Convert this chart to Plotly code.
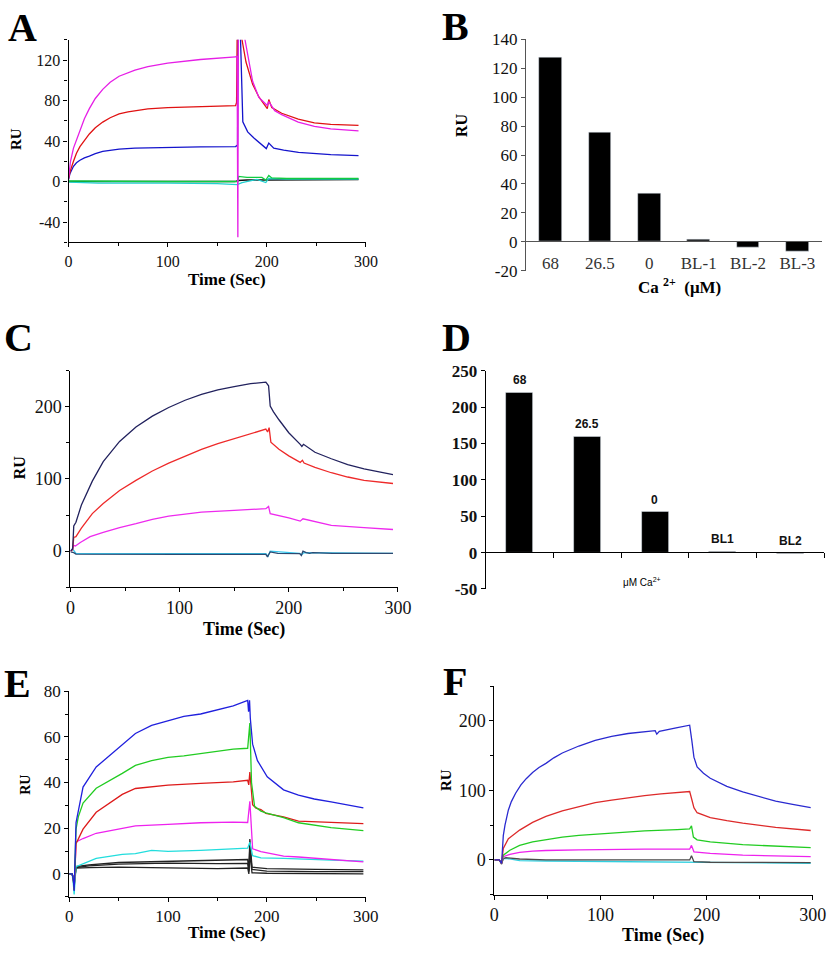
import plotly.graph_objects as go

W, H = 840, 955

# ---------- Panel A : sensorgrams ----------
a_mag_t = [0, 2, 5, 8, 11.5, 16, 21, 27, 34.5, 42, 51, 60, 67, 80, 100, 133, 168.5, 170, 170.8, 171.6, 178, 185.7, 192, 199, 200.5, 202, 208, 215, 231.7, 248, 264.5, 292.5]
a_mag_v = [3, 20, 33, 41, 50, 62, 72, 82, 91, 98, 104, 107.5, 110, 113.5, 117, 120.5, 123, 124, -55, 300, 140, 99, 83, 76.5, 75, 79, 70, 66, 58.7, 54.5, 52, 50]
a_red_t = [0, 1.6, 5, 8, 11.5, 16, 21, 27, 34.5, 42, 51, 60, 67, 80, 100, 133, 168.5, 169.5, 170.5, 171.5, 175, 179, 185.7, 192, 199, 200.5, 202, 205, 215, 231.7, 248, 264.5, 292.5]
a_red_v = [3, 10, 20, 28, 34.5, 41, 47, 53, 58.7, 63, 66.8, 68.8, 70, 71.8, 73, 74, 75, 78, 300, 300, 140, 118, 96, 83.5, 74, 72, 81, 73, 67.4, 61.6, 58, 56.5, 55.5]
a_blue_t = [0, 1.5, 5, 8, 11.5, 16, 21, 27, 34.5, 42, 51, 67, 100, 133, 168.5, 170.5, 171.5, 173.5, 175.8, 180.7, 187, 197, 199.5, 202, 207, 217, 232, 264.5, 292.5]
a_blue_v = [2, 8, 15, 18.5, 21, 23.3, 25, 27.5, 29.7, 31, 32, 33, 34, 34.3, 34.5, 36, 300, 140, 59, 49, 43, 35, 32.5, 38, 33, 31, 28.7, 26.5, 25.5]
a_blk_t = [0, 50, 100, 168, 171, 180, 200, 250, 292.5]
a_blk_v = [0, 0, 0.5, 0, 1, 1.5, 1.5, 2, 2]
a_grn_t = [0, 50, 100, 168, 171, 171.5, 180, 195, 199, 202, 205, 220, 292.5]
a_grn_v = [0.5, 0, 0, 0, 0, 5, 4, 4, 1.5, 6, 3.5, 3, 3]
a_cyn_t = [0, 30, 100, 150, 170, 175, 190, 199, 202, 220, 292.5]
a_cyn_v = [-0.5, -1.5, -1.5, -2, -3, -1, 2, -1, 3, 2.5, 2.5]
a_ticks = [-40, 0, 40, 80, 120]

# ---------- Panel B : bars ----------
b_cats = ["68", "26.5", "0", "BL-1", "BL-2", "BL-3"]
b_vals = [127.5, 75.5, 33.5, 1.5, -3.9, -6.8]
b_ticks = [-20, 0, 20, 40, 60, 80, 100, 120, 140]

# ---------- Panel C : sensorgrams ----------
c_navy_t = [0, 2, 3, 5, 10, 20, 30, 45, 60, 75, 90, 105, 120, 135, 150, 165, 179, 181.5, 183, 186, 191, 200, 210.5, 212, 213.5, 224, 239, 254, 269, 295.5]
c_navy_v = [0, 3, 35, 40, 64, 97, 124, 152, 172, 187, 199, 209, 217, 223.5, 228, 232, 234, 229, 201, 193, 182, 164, 148, 145, 148, 137, 128, 120, 114, 106]
c_red_t = [0, 2, 3, 5, 10, 20, 30, 45, 60, 75, 90, 105, 120, 135, 150, 165, 179, 180.6, 182, 183.6, 191, 200, 210.5, 212.5, 214, 224, 239, 254, 269, 295.5]
c_red_v = [0, 2, 19, 20, 32, 52, 66, 84, 98, 111, 122, 132, 141, 149, 156, 163, 169, 165, 171, 151, 141, 132, 123, 126, 122, 116, 108.6, 102.7, 98, 93.7]
c_mag_t = [0, 2, 3, 4.5, 9, 18, 30, 45, 60, 75, 90, 105, 120, 150, 179, 181.5, 183, 200, 210.5, 213, 224, 239, 269, 295.5]
c_mag_v = [0, 3, 8, 7, 12, 20, 26, 32.6, 38, 44, 48.4, 51.6, 54, 56.6, 58.8, 62, 52, 46, 41.6, 44.8, 40.7, 35.7, 32.6, 30]
c_cyn_t = [0, 1.5, 3, 5, 20, 100, 179, 181, 183, 210, 212, 214, 295.5]
c_cyn_v = [0, 3, 1, -3, -3.5, -3.5, -3.5, -7, 0, -3, -5, -2, -3]
c_teal_t = [0, 3, 5, 20, 60, 100, 179, 180.5, 181.5, 183, 190, 210, 211.5, 213, 216, 219, 222, 240, 295.5]
c_teal_v = [-1, -2, -4, -4.2, -4.5, -4.5, -4.5, -8, -5, -1, -3, -3.5, -6, 0, -2, -3, -2, -3, -3]

# ---------- Panel D : bars ----------
d_cats = ["68", "26.5", "0", "BL1", "BL2"]
d_vals = [220, 159.5, 56, 1.5, -1.5]
d_ticks = [-50, 0, 50, 100, 150, 200, 250]

# ---------- Panel E : sensorgrams ----------
e_blue_t = [0, 3, 4.3, 5, 6.9, 9.2, 14, 27.3, 53.7, 67, 83.4, 100, 116, 133, 149, 166, 180.6, 181.5, 182.5, 183.3, 185.6, 190.5, 200.4, 216.9, 232, 248, 265, 281, 297.7]
e_blue_v = [0, 0, -3, -7.5, 22.5, 28, 38, 46.8, 56.8, 61.5, 65, 67, 69, 70, 71.7, 73.6, 76, 71, 76, 68, 56.8, 49.6, 42.5, 36.8, 34.5, 32.8, 31.5, 30.3, 28.9]
e_grn_t = [0, 3, 4.3, 5, 6.9, 9.2, 14, 27.3, 53.7, 67, 83.4, 100, 116, 133, 149, 166, 180.6, 182.8, 184.5, 187.6, 194, 199, 216.9, 232, 265, 297.7]
e_grn_v = [0, 0, -3, -7, 19.6, 25, 31, 37.5, 44, 47.5, 49.6, 51, 51.7, 52.7, 53.9, 54.6, 55, 66, 40, 29.6, 27.5, 26.7, 24.6, 22.4, 20.3, 19]
e_red_t = [0, 3, 4.3, 5, 6.9, 9.2, 14, 27.3, 53.7, 67, 83.4, 100, 133, 166, 180.6, 181.7, 182.8, 185.6, 189, 194, 199, 216.9, 232, 265, 297.7]
e_red_v = [0, 0, -3, -7, 13.2, 15.3, 19.6, 27, 34.8, 37.4, 38, 38.9, 39.6, 40.3, 41, 39, 44.6, 30.3, 28.8, 28.2, 26.5, 25, 23.1, 22.4, 22]
e_mag_t = [0, 3, 4.3, 5, 6.9, 9.2, 14, 27.3, 53.7, 67, 100, 133, 166, 180.6, 182.8, 185.6, 194, 199, 217, 232, 265, 297.7]
e_mag_v = [0, 0, -3, -7, 14, 14.5, 15.5, 17.8, 20, 21, 21.7, 22.4, 22.7, 22.5, 31.8, 11, 9.8, 9.3, 7.8, 7.4, 6.3, 5.3]
e_cyn_t = [0, 3, 4.3, 5, 6.9, 14, 27.3, 53.7, 67, 83.4, 100, 133, 166, 180.6, 182.8, 185.6, 194, 217, 265, 297.7]
e_cyn_v = [0, 0, -5, -9, 3.2, 4.5, 6.8, 8.6, 8.9, 10.3, 9.9, 10.3, 11, 11.3, 13.9, 8, 7, 6.8, 6, 5.6]
e_blk_t = [0, 3, 4.3, 5, 6.9, 20, 50, 100, 150, 180.6, 181.8, 182.8, 185, 200, 250, 297.7]
e_blk1_v = [0, 0, -3, -6, 3.2, 4, 5, 5.4, 6, 6.3, 1, 15.3, 3, 2.3, 2, 1.8]
e_blk2_v = [0, 0, -2, -5, 2.8, 3.5, 4.3, 4.7, 4.5, 4.6, 1.5, 12, 2, 1.2, 1, 1]
e_blk3_v = [0, 0, -2, -4, 2.5, 2.8, 3, 2.6, 2.3, 2.6, 0, 9, 0.5, 0.3, 0.2, 0]

# ---------- Panel F : sensorgrams ----------
f_blue_t = [0, 4.6, 6.8, 8.4, 10, 13.2, 16, 20, 25, 30, 36, 42, 48.6, 56, 64, 79.6, 95, 110.5, 126, 141.5, 151.5, 153, 155.4, 172.4, 184, 186, 188, 191, 197, 203.4, 219, 234, 250, 265, 281, 298]
f_blue_v = [0, 0, -5, 35, 50, 72, 84, 96, 108, 117, 126, 133, 139, 147, 154, 164, 172, 178, 182, 185, 186, 181, 185, 190.6, 194, 172, 148, 134, 124.7, 117.6, 105.9, 97.9, 90.8, 84.7, 80, 75.3]
f_red_t = [0, 4.6, 6.8, 8.4, 13.2, 23.8, 36, 48.6, 64, 79.6, 95, 110.5, 126, 141.5, 157, 172.4, 184, 186, 188, 191, 203.4, 219, 234, 265, 298]
f_red_v = [0, 0, -5, 16.5, 30.5, 43, 54, 62.6, 70.6, 76.7, 82.4, 86, 89.4, 92.7, 95, 97.4, 98.5, 87, 75.3, 68, 61, 56.5, 53, 47, 42.4]
f_grn_t = [0, 4.6, 6.8, 8.4, 14.6, 23.8, 36, 48.6, 64, 79.6, 110.5, 141.5, 172.4, 184, 185.7, 187.5, 191, 203.4, 234, 265, 298]
f_grn_v = [0, 0, -5, 7, 14, 21, 26, 29.6, 33, 35.3, 39, 42, 43.8, 44.7, 49, 33, 29, 26, 22, 19.8, 17.9]
f_mag_t = [0, 4.6, 6.8, 8.4, 14.6, 23.8, 36, 48.6, 79.6, 110.5, 141.5, 184, 185.7, 188, 203.4, 234, 265, 298]
f_mag_v = [0, 0, -5, 4.7, 8, 10.8, 12.7, 13.6, 14.6, 15.5, 15.5, 15.5, 21, 11.8, 9.4, 7, 5.6, 4.7]
f_gry_t = [0, 4.6, 6.8, 8.4, 11, 23.8, 48.6, 110.5, 172.4, 184, 185.7, 188, 203.4, 250, 298]
f_gry_v = [0, 0, -6, 2, 3.3, 1.4, 0, 0, 0, 0, 6, -2.4, -3.3, -3.5, -3.8]
f_cyn_t = [0, 4.6, 6.8, 8.4, 11, 23.8, 48.6, 110.5, 172.4, 184, 188, 250, 298]
f_cyn_v = [0, 0, -4, 1.5, 2.4, -1, -1.5, -2.4, -2.4, -2.4, -3.5, -4, -4.7]


def fx(p):
    return p / W


def fy(p):
    return 1 - p / H


SERIF = "Liberation Serif"
fig = go.Figure()


def line(t, v, color, ax):
    fig.add_trace(go.Scatter(
        x=t, y=v, mode="lines", line=dict(color=color, width=1.3),
        xaxis="x" + ax, yaxis="y" + ax, hoverinfo="skip", showlegend=False
    ))


# A
line(a_blk_t, a_blk_v, "#101010", "")
line(a_cyn_t, a_cyn_v, "#20d0d0", "")
line(a_grn_t, a_grn_v, "#10cc40", "")
line(a_blue_t, a_blue_v, "#1414cc", "")
line(a_red_t, a_red_v, "#e01212", "")
line(a_mag_t, a_mag_v, "#e61ee6", "")

# B
fig.add_trace(go.Bar(x=b_cats, y=b_vals, marker_color="black", width=0.46,
                     xaxis="x2", yaxis="y2", showlegend=False))

# C
line(c_cyn_t, c_cyn_v, "#38c8ee", "3")
line(c_teal_t, c_teal_v, "#2c4a72", "3")
line(c_mag_t, c_mag_v, "#ee2aee", "3")
line(c_red_t, c_red_v, "#ee2a2a", "3")
line(c_navy_t, c_navy_v, "#22225e", "3")

# D
fig.add_trace(go.Bar(x=d_cats, y=d_vals, marker_color="black", width=0.40,
                     xaxis="x4", yaxis="y4", showlegend=False))
for i, (c, v) in enumerate(zip(d_cats, d_vals)):
    fig.add_annotation(x=i, y=max(v, 0), xref="x4", yref="y4", text="<b>%s</b>" % c,
                       showarrow=False, yanchor="bottom", yshift=3,
                       font=dict(family="Liberation Sans", size=12, color="#111"))

# E
line(e_blk_t, e_blk1_v, "#222222", "5")
line(e_blk_t, e_blk2_v, "#222222", "5")
line(e_blk_t, e_blk3_v, "#222222", "5")
line(e_cyn_t, e_cyn_v, "#22dddd", "5")
line(e_mag_t, e_mag_v, "#ee22ee", "5")
line(e_red_t, e_red_v, "#dd1a1a", "5")
line(e_grn_t, e_grn_v, "#22cc22", "5")
line(e_blue_t, e_blue_v, "#2020dd", "5")

# F
line(f_cyn_t, f_cyn_v, "#30d0e0", "6")
line(f_gry_t, f_gry_v, "#4a4a4a", "6")
line(f_mag_t, f_mag_v, "#ee22ee", "6")
line(f_grn_t, f_grn_v, "#22cc22", "6")
line(f_red_t, f_red_v, "#dd2a2a", "6")
line(f_blue_t, f_blue_v, "#2a2ad0", "6")


def time_x(x0, x1, anchor, size=16):
    return dict(domain=[fx(x0), fx(x1)], range=[0, 300], anchor=anchor,
                showline=True, linecolor="black", linewidth=1.2, showgrid=False,
                zeroline=False, dtick=100, tick0=0, ticks="outside", ticklen=4,
                tickcolor="black",
                minor=dict(dtick=50, ticks="outside", ticklen=3, tickcolor="black"),
                tickfont=dict(family=SERIF, size=size, color="#111"))


def val_y(y0, y1, rng, ticks, minor, anchor, size=16, bold=False, color="black"):
    d = dict(domain=[fy(y1), fy(y0)], range=rng, anchor=anchor,
             showline=True, linecolor=color, linewidth=1.2, showgrid=False,
             zeroline=False, tickmode="array", tickvals=ticks,
             ticktext=[str(t) for t in ticks], ticks="outside", ticklen=4,
             tickcolor=color,
             tickfont=dict(family=SERIF, size=size, color="#111",
                           weight="bold" if bold else "normal"))
    if minor:
        d["minor"] = dict(dtick=minor, tick0=0, ticks="outside", ticklen=3, tickcolor=color)
    return d


layout = dict(
    width=W, height=H, margin=dict(l=0, r=0, t=0, b=0),
    paper_bgcolor="white", plot_bgcolor="white", showlegend=False, bargap=0,
    xaxis=time_x(65, 369.3, "y"),
    yaxis=val_y(31.4, 238, [-60, 140], a_ticks, 20, "x"),
    xaxis2=dict(domain=[fx(533), fx(836)], range=[-0.5, 5.5], type="category",
                anchor="free", position=fy(237), showline=True, linecolor="#555",
                linewidth=1.2, showgrid=False, zeroline=False, ticks="",
                ticklabelstandoff=6,
                tickfont=dict(family=SERIF, size=17, color="#333")),
    yaxis2=val_y(31, 267, [-20, 140], b_ticks, None, "x2", size=17, color="#555"),
    xaxis3=time_x(67, 402, "y3", size=18),
    yaxis3=val_y(369, 590, [-50, 250], [0, 100, 200], 50, "x3", size=18),
    xaxis4=dict(domain=[fx(492), fx(838)], range=[-0.5, 4.5], type="category",
                anchor="free", position=fy(554), showline=True, linecolor="black",
                linewidth=1.2, showgrid=False, zeroline=False, ticks="outside",
                ticklen=5, tickcolor="black", tickson="boundaries",
                showticklabels=False),
    yaxis4=val_y(369, 591.7, [-50, 250], d_ticks, None, "x4", size=17, bold=True),
    xaxis5=time_x(65.7, 369, "y5", size=17),
    yaxis5=val_y(696, 905.8, [-10, 80], [0, 20, 40, 60, 80], 10, "x5", size=17),
    xaxis6=time_x(500.7, 826.5, "y6", size=18),
    yaxis6=val_y(691, 903.7, [-50, 250], [0, 100, 200], 50, "x6", size=18),
)
fig.update_layout(**layout)


def note(x, y, text, size, bold=True, angle=0, family=SERIF):
    fig.add_annotation(x=fx(x), y=fy(y), xref="paper", yref="paper",
                       text="<b>%s</b>" % text if bold else text, showarrow=False,
                       textangle=angle, xanchor="center", yanchor="middle",
                       font=dict(family=family, size=size, color="black"))


# panel letters
for lx, ly, lt in [(18, 19, "A"), (461, 18, "B"), (14, 335, "C"),
                   (462, 335, "D"), (13, 688, "E"), (460, 686, "F")]:
    note(lx, ly, lt, 40)

# axis titles
note(227, 276, "Time (Sec)", 17)
note(245, 633, "Time (Sec)", 18)
note(227, 942, "Time (Sec)", 17)
note(673, 945, "Time (Sec)", 18)
note(12, 133, "RU", 15, angle=-90)
note(467, 118, "RU", 16, angle=-90)
note(15, 468, "RU", 16, angle=-90)
note(21, 792, "RU", 14, angle=-90)
note(452, 787, "RU", 15, angle=-90)
note(690, 283, "Ca <sup>2+</sup>  (μM)", 17)
note(652, 585, "μM Ca<sup>2+</sup>", 10, bold=False, family="Liberation Sans")

fig.write_html("out.html", config={"displayModeBar": False},
               post_script="document.body.style.margin='0px';"
                           "document.body.style.overflow='hidden';")
